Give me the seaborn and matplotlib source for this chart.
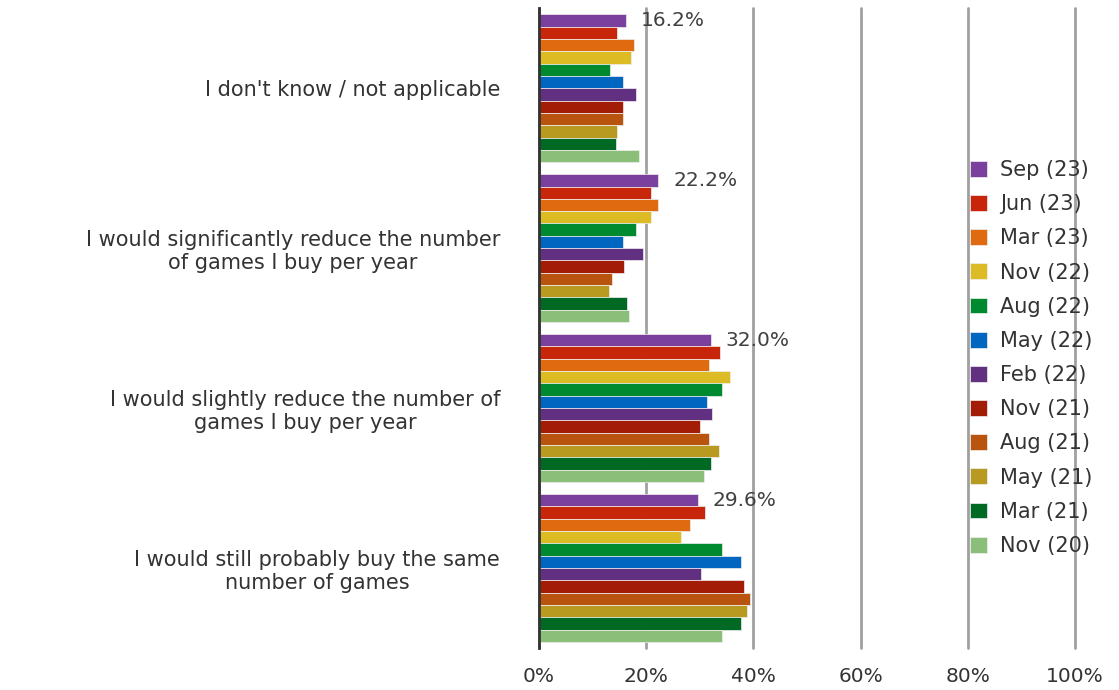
import pandas as pd
import matplotlib.pyplot as plt
import seaborn as sns

# ----------- DONNÉES -------------
categories = [
    "I don't know / not applicable",
    "I would significantly reduce the number\nof games I buy per year",
    "I would slightly reduce the number of\ngames I buy per year",
    "I would still probably buy the same\nnumber of games",
]

waves = ["Sep (23)", "Jun (23)", "Mar (23)", "Nov (22)", "Aug (22)", "May (22)",
         "Feb (22)", "Nov (21)", "Aug (21)", "May (21)", "Mar (21)", "Nov (20)"]

# valeurs (%) par vague, dans l'ordre des catégories
sep23 = [16.2, 22.2, 32.0, 29.6]
jun23 = [14.6, 20.9, 33.8, 31.0]
mar23 = [17.8, 22.2, 31.7, 28.1]
nov22 = [17.1, 20.9, 35.7, 26.5]
aug22 = [13.3, 18.1, 34.1, 34.1]
may22 = [15.6, 15.6, 31.3, 37.6]
feb22 = [18.1, 19.4, 32.3, 30.3]
nov21 = [15.6, 15.9, 30.0, 38.2]
aug21 = [15.6, 13.6, 31.7, 39.4]
may21 = [14.6, 13.0, 33.5, 38.8]
mar21 = [14.3, 16.5, 32.0, 37.6]
nov20 = [18.7, 16.8, 30.7, 34.1]

series = [sep23, jun23, mar23, nov22, aug22, may22,
          feb22, nov21, aug21, may21, mar21, nov20]

colors = ["#7B3F9E", "#C8260A", "#E06A10", "#DDBB25", "#008A30", "#0066C0",
          "#613080", "#A31C05", "#B8540E", "#B89A20", "#006A25", "#8BBE78"]

# tableau long pour seaborn
rows = []
for wave, vals in zip(waves, series):
    for cat, v in zip(categories, vals):
        rows.append({"categorie": cat, "vague": wave, "valeur": v})
df = pd.DataFrame(rows)

# ----------- TRACÉ -------------
sns.set_style("white")
plt.rcParams['font.family'] = ['DejaVu Sans']

fig, ax = plt.subplots(figsize=(11.19, 6.9), dpi=100)
fig.subplots_adjust(left=0.4817, right=0.9607, top=0.988, bottom=0.061)

sns.barplot(data=df, y="categorie", x="valeur", hue="vague", order=categories,
            hue_order=waves, palette=colors, saturation=1, width=0.925, orient="h",
            edgecolor="#f0f0f0", linewidth=0.5, ax=ax)

ax.set_xlim(0, 100)
ax.set_xticks([0, 20, 40, 60, 80, 100])
ax.set_xticklabels([f"{t}%" for t in range(0, 101, 20)], fontsize=14.5, color="#333333")
ax.set_xlabel("")
ax.set_ylabel("")
ax.set_axisbelow(True)
ax.grid(axis="x", color="#A0A0A0", linewidth=2)
ax.grid(axis="y", visible=False)
for gl in ax.get_xgridlines():
    gl.set_clip_on(False)

for s in ["top", "right", "bottom"]:
    ax.spines[s].set_visible(False)
ax.spines["left"].set_color("#333333")
ax.spines["left"].set_linewidth(2)

ax.tick_params(axis="x", length=6, width=1.5, color="#A0A0A0", pad=8)
ax.tick_params(axis="y", length=0, pad=28)
for lab in ax.get_yticklabels():
    lab.set_fontsize(15)
    lab.set_color("#333333")
    lab.set_multialignment("center")

# étiquettes de valeur pour la vague la plus récente
for i, v in enumerate(sep23):
    y = i - 0.925 / 2 + 0.925 / 24
    ax.text(v + 2.8, y, f"{v:.1f}%", fontsize=14.5, color="#404040", va="center", ha="left")

# légende
handles, labels = ax.get_legend_handles_labels()
ax.legend(handles, labels, loc="upper left", bbox_to_anchor=(0.77, 0.792), frameon=False,
          fontsize=15, handlelength=0.8, handleheight=0.8, handletextpad=0.6,
          labelspacing=0.68, labelcolor="#333333")

plt.savefig("out.png", dpi=100)
